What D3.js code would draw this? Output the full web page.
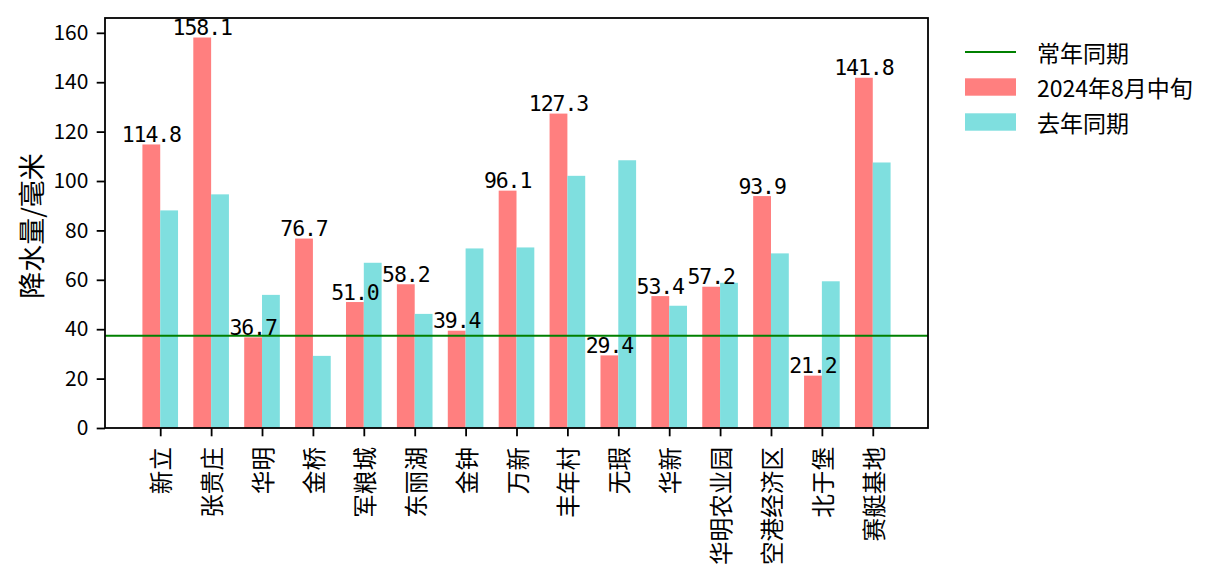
<!DOCTYPE html>
<html>
<head>
<meta charset="utf-8">
<script src="https://cdn.jsdelivr.net/npm/d3@7"></script>
<style>
  html, body { margin: 0; padding: 0; background: #fff; }
  svg { display: block; }
</style>
</head>
<body>
<svg id="chart" width="1222" height="586"></svg>
<script>
const categories = ["新立", "张贵庄", "华明", "金桥", "军粮城", "东丽湖", "金钟", "万新", "丰年村", "无瑕", "华新", "华明农业园", "空港经济区", "北于堡", "赛艇基地"];
const current = [114.8, 158.1, 36.7, 76.7, 51.0, 58.2, 39.4, 96.1, 127.3, 29.4, 53.4, 57.2, 93.9, 21.2, 141.8];
const lastYear = [88.1, 94.6, 53.9, 29.2, 66.9, 46.2, 72.7, 73.1, 102.1, 108.4, 49.5, 58.8, 70.7, 59.4, 107.5];
const normal = 37.4;
const yTicks = [0, 20, 40, 60, 80, 100, 120, 140, 160];
const seriesNames = ["常年同期", "2024年8月中旬", "去年同期"];
const yLabel = "降水量/毫米";

const colors = { current: "#FF7F7F", last: "#7FDFDF", normal: "#008000" };
const cjk = "'Noto Sans CJK SC', 'Noto Sans', sans-serif";

const svg = d3.select("#chart");
const m = { left: 105, right: 928, top: 18, bottom: 428 };
const barW = 0.35;

const x = d3.scaleLinear()
  .domain([-barW - 0.735, categories.length - 1 + barW + 0.735])
  .range([m.left, m.right]);
const y = d3.scaleLinear().domain([0, 166]).range([m.bottom, m.top]);

// bars
const g = svg.append("g");
g.selectAll("rect.cur").data(current).enter().append("rect")
  .attr("x", (d, i) => x(i - barW))
  .attr("width", (d, i) => x(i) - x(i - barW))
  .attr("y", d => y(d))
  .attr("height", d => y(0) - y(d))
  .attr("fill", colors.current);
g.selectAll("rect.last").data(lastYear).enter().append("rect")
  .attr("x", (d, i) => x(i))
  .attr("width", (d, i) => x(i + barW) - x(i))
  .attr("y", d => y(d))
  .attr("height", d => y(0) - y(d))
  .attr("fill", colors.last);

// normal line
svg.append("line")
  .attr("x1", m.left).attr("x2", m.right)
  .attr("y1", y(normal)).attr("y2", y(normal))
  .attr("stroke", colors.normal).attr("stroke-width", 2);

// value labels
svg.selectAll("text.val").data(current).enter().append("text")
  .attr("x", (d, i) => x(i - barW / 2))
  .attr("y", d => y(d) - 2.5)
  .attr("text-anchor", "middle")
  .attr("font-family", "'DejaVu Sans Mono', monospace")
  .attr("font-size", 21.5)
  .attr("letter-spacing", -1.1)
  .attr("fill", "#000")
  .text(d => d.toFixed(1));

// y axis
const yAxis = d3.axisLeft(y).tickValues(yTicks).tickSize(8.3).tickPadding(8.3).tickFormat(d3.format("d"));
const ya = svg.append("g").attr("transform", `translate(${m.left},0)`).call(yAxis);
ya.select(".domain").remove();
ya.selectAll("line").attr("stroke", "#000").attr("stroke-width", 1.8);
ya.selectAll("text").attr("font-family", cjk).attr("font-size", 21).attr("fill", "#000");

// x axis
const xAxis = d3.axisBottom(x).tickValues(d3.range(categories.length)).tickSize(8.3).tickFormat(() => "");
const xa = svg.append("g").attr("transform", `translate(0,${m.bottom})`).call(xAxis);
xa.select(".domain").remove();
xa.selectAll("line").attr("stroke", "#000").attr("stroke-width", 1.8);
svg.selectAll("text.xl").data(categories).enter().append("text")
  .attr("transform", (d, i) => `translate(${x(i)},${m.bottom + 19}) rotate(-90)`)
  .attr("text-anchor", "end")
  .attr("dominant-baseline", "central")
  .attr("font-family", cjk)
  .attr("font-size", 23.6)
  .attr("fill", "#000")
  .text(d => d);

// frame
svg.append("rect")
  .attr("x", m.left).attr("y", m.top)
  .attr("width", m.right - m.left).attr("height", m.bottom - m.top)
  .attr("fill", "none").attr("stroke", "#000").attr("stroke-width", 1.8);

// y label
svg.append("text")
  .attr("transform", `translate(30,${(m.top + m.bottom) / 2 + 3}) rotate(-90)`)
  .attr("text-anchor", "middle")
  .attr("dominant-baseline", "central")
  .attr("font-family", cjk)
  .attr("font-size", 27)
  .attr("fill", "#000")
  .text(yLabel);

// legend
const lg = svg.append("g").attr("transform", "translate(965,52)");
lg.append("line").attr("x1", 0).attr("x2", 51).attr("y1", 0).attr("y2", 0)
  .attr("stroke", colors.normal).attr("stroke-width", 2);
lg.append("rect").attr("x", 0).attr("y", 35 - 8.7).attr("width", 51).attr("height", 17.4).attr("fill", colors.current);
lg.append("rect").attr("x", 0).attr("y", 70 - 8.7).attr("width", 51).attr("height", 17.4).attr("fill", colors.last);
lg.selectAll("text").data(seriesNames).enter().append("text")
  .attr("x", 72).attr("y", (d, i) => i * 35)
  .attr("dominant-baseline", "central")
  .attr("font-family", cjk)
  .attr("font-size", 23)
  .attr("fill", "#000")
  .text(d => d);
</script>
</body>
</html>
